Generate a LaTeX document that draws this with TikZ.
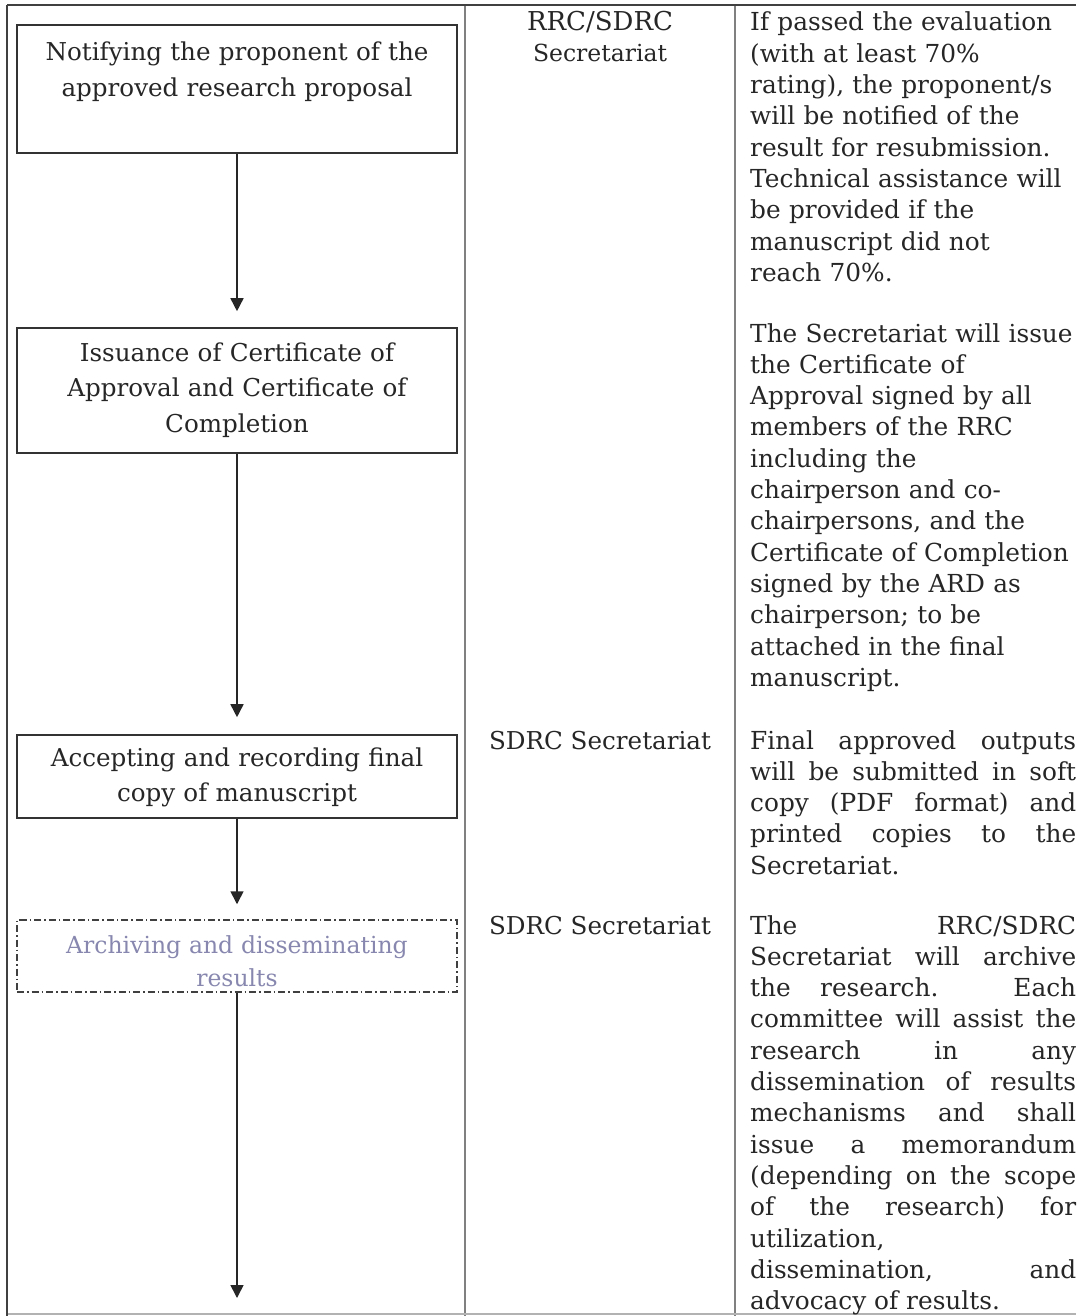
\documentclass[tikz,border=0pt]{standalone}
\usepackage{fontspec}
\setmainfont{DejaVu Serif}
\usetikzlibrary{arrows.meta}
\tikzset{
  frameline/.style={draw=black!75, line width=2.4pt},
  gridline/.style={draw=black!50, line width=1.2pt},
  stepbox/.style={draw=black!80, line width=1.6pt, minimum width=440pt, inner sep=0pt},
  dashbox/.style={stepbox, draw=black!75, line width=1.5pt, dash pattern=on 7pt off 3pt on 1.5pt off 3pt},
  arr/.style={draw=black!85, line width=1.6pt, -{Triangle[width=13pt,length=13pt]}},
  boxtext/.style={font=\fontsize{24.6}{35.5}\selectfont, align=center, text width=440pt, inner sep=0pt, anchor=base, text=black!85},
  roletext/.style={align=center, inner sep=0pt, anchor=base, text=black!85},
  desc/.style={font=\fontsize{24.8}{31.3}\selectfont, text width=326pt, inner sep=0pt, anchor=base west, text=black!85},
}
\begin{document}
\begin{tikzpicture}[x=1pt,y=-1pt]
\useasboundingbox (0,0) rectangle (1076,1316);
% table frame
\coordinate (tl) at (7,5);
\coordinate (tr) at (1076,5);
\coordinate (c1t) at (465,5);
\coordinate (c2t) at (735,5);
\coordinate (bl) at (7,1316);
\coordinate (c1b) at (465,1316);
\coordinate (c2b) at (735,1316);
\draw[gridline] (c1t) -- (c1b);
\draw[gridline] (c2t) -- (c2b);
\draw[gridline, draw=black!30] (7,1314) -- (1076,1314);
\draw[frameline] (tl) -- (tr);
\draw[frameline] (tl) -- (bl);

% process boxes
\node[stepbox, minimum height=128pt] (b1) at (237,89) {};
\node[stepbox, minimum height=125pt] (b2) at (237,390.5) {};
\node[stepbox, minimum height=83pt] (b3) at (237,776.5) {};
\node[dashbox, minimum height=72pt] (b4) at (237,956) {};
\coordinate (end) at (237,1298);

\node[boxtext] (t1) at (237,61) {Notifying the proponent of the\\approved research proposal};
\node[boxtext] (t2) at (237,361) {Issuance of Certificate of\\Approval and Certificate of\\Completion};
\node[boxtext] (t3) at (237,766) {Accepting and recording final\\copy of manuscript};
\node[boxtext, font=\fontsize{23.5}{33}\selectfont, text={rgb,255:red,135;green,135;blue,175}] (t4) at (237,953) {Archiving and disseminating\\results};

\draw[arr, shorten >=16pt] (b1.south) -- (b2.north);
\draw[arr, shorten >=17pt] (b2.south) -- (b3.north);
\draw[arr, shorten >=15pt] (b3.south) -- (b4.north);
\draw[arr] (b4.south) -- (end);

% responsible units
\node[roletext, font=\fontsize{26}{30}\selectfont] (r1a) at (600,31) {RRC/SDRC};
\node[roletext, font=\fontsize{23.5}{30}\selectfont] (r1b) at (600,62) {Secretariat};
\node[roletext, font=\fontsize{24.6}{30}\selectfont] (r3) at (600,749) {SDRC Secretariat};
\node[roletext, font=\fontsize{24.6}{30}\selectfont] (r4) at (600,934) {SDRC Secretariat};

% descriptions
\node[desc, align=left] (d1) at (750,31) {If passed the evaluation\\(with at least 70\%\\rating), the proponent/s\\will be notified of the\\result for resubmission.\\Technical assistance will\\be provided if the\\manuscript did not\\reach 70\%.};
\node[desc, align=left] (d2) at (750,342) {The Secretariat will issue\\the Certificate of\\Approval signed by all\\members of the RRC\\including the\\chairperson and co-\\chairpersons, and the\\Certificate of Completion\\signed by the ARD as\\chairperson; to be\\attached in the final\\manuscript.};
\node[desc, align=justify] (d3) at (750,749) {Final approved outputs\linebreak will be submitted in soft\linebreak copy (PDF format) and\linebreak printed copies to the\linebreak Secretariat.};
\node[desc, align=justify] (d4) at (750,934) {The RRC/SDRC\linebreak Secretariat will archive\linebreak the research. Each\linebreak committee will assist the\linebreak research in any\linebreak dissemination of results\linebreak mechanisms and shall\linebreak issue a memorandum\linebreak (depending on the scope\linebreak of the research) for\linebreak utilization,\newline dissemination, and\linebreak advocacy of results.};
\end{tikzpicture}
\end{document}
